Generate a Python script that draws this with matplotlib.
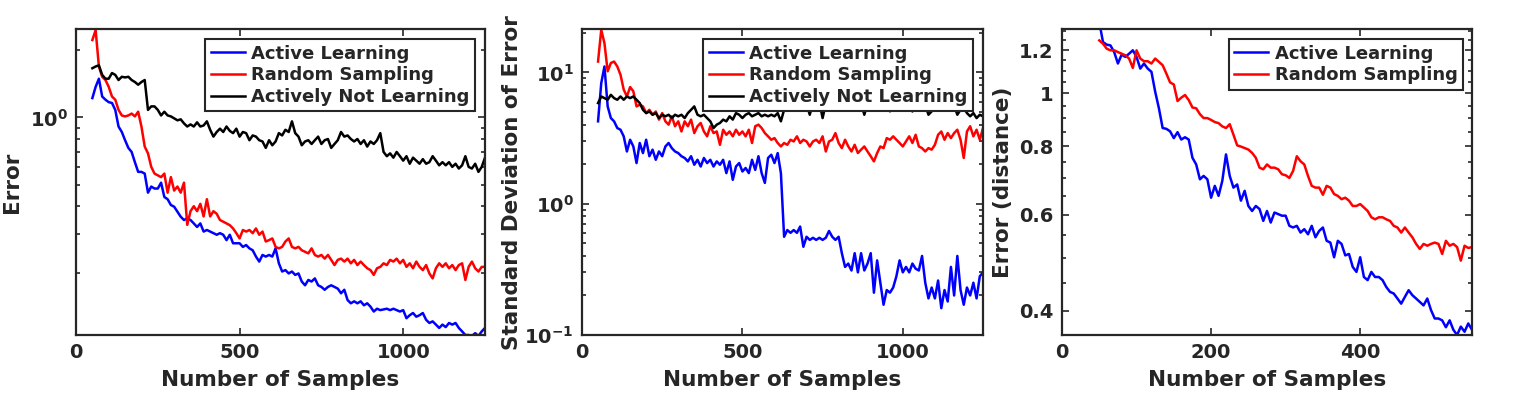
"""Error curves: active learning vs random sampling (three panels)."""
import matplotlib
import matplotlib.pyplot as plt
import matplotlib.ticker as mticker
import numpy as np

matplotlib.use("Agg")

# ---------------------------------------------------------------- data
samples = np.arange(50, 1251, 10)
samples_dist = np.arange(50, 551, 5)

err_active = [
    1.22, 1.37, 1.49, 1.24, 1.20, 1.17, 1.16, 1.08, 0.91, 0.86,
    0.79, 0.73, 0.70, 0.63, 0.57, 0.57, 0.56, 0.46, 0.49, 0.48,
    0.48, 0.51, 0.44, 0.43, 0.405, 0.398, 0.378, 0.359, 0.347, 0.353,
    0.347, 0.335, 0.323, 0.335, 0.308, 0.313, 0.308, 0.303, 0.298, 0.303,
    0.298, 0.282, 0.298, 0.273, 0.273, 0.273, 0.263, 0.268, 0.259, 0.254,
    0.238, 0.226, 0.242, 0.238, 0.242, 0.238, 0.259, 0.222, 0.204, 0.207,
    0.200, 0.204, 0.197, 0.200, 0.184, 0.177, 0.187, 0.184, 0.190, 0.177,
    0.174, 0.169, 0.174, 0.177, 0.174, 0.171, 0.163, 0.169, 0.152, 0.147,
    0.150, 0.147, 0.150, 0.144, 0.147, 0.142, 0.135, 0.139, 0.137, 0.138,
    0.139, 0.137, 0.139, 0.137, 0.135, 0.137, 0.126, 0.130, 0.133, 0.128,
    0.130, 0.133, 0.124, 0.120, 0.122, 0.118, 0.114, 0.118, 0.115, 0.120,
    0.118, 0.120, 0.114, 0.110, 0.106, 0.106, 0.105, 0.108, 0.105, 0.110,
    0.114,
]
err_random = [
    2.22, 2.46, 1.69, 1.52, 1.47, 1.37, 1.24, 1.20, 1.08, 1.02,
    1.01, 1.02, 1.04, 1.01, 1.06, 0.91, 0.74, 0.69, 0.60, 0.56,
    0.55, 0.54, 0.56, 0.46, 0.54, 0.47, 0.49, 0.46, 0.51, 0.33,
    0.38, 0.40, 0.38, 0.41, 0.36, 0.43, 0.36, 0.38, 0.37, 0.347,
    0.341, 0.335, 0.329, 0.318, 0.303, 0.287, 0.313, 0.308, 0.313, 0.303,
    0.318, 0.298, 0.308, 0.278, 0.282, 0.287, 0.263, 0.259, 0.263, 0.278,
    0.287, 0.263, 0.259, 0.263, 0.254, 0.250, 0.246, 0.259, 0.242, 0.238,
    0.242, 0.233, 0.242, 0.230, 0.218, 0.230, 0.233, 0.226, 0.233, 0.222,
    0.230, 0.218, 0.226, 0.218, 0.211, 0.207, 0.197, 0.211, 0.214, 0.222,
    0.218, 0.230, 0.226, 0.233, 0.222, 0.230, 0.214, 0.222, 0.211, 0.226,
    0.214, 0.207, 0.218, 0.200, 0.190, 0.211, 0.222, 0.214, 0.222, 0.211,
    0.218, 0.207, 0.218, 0.222, 0.187, 0.214, 0.226, 0.211, 0.204, 0.214,
    0.214,
]
err_not_learning = [
    1.66, 1.69, 1.71, 1.55, 1.49, 1.49, 1.58, 1.55, 1.47, 1.52,
    1.51, 1.52, 1.47, 1.44, 1.40, 1.44, 1.47, 1.08, 1.12, 1.12,
    1.08, 1.02, 1.06, 1.02, 1.01, 0.99, 0.97, 0.98, 0.94, 0.91,
    0.93, 0.91, 0.95, 0.91, 0.92, 0.96, 0.88, 0.82, 0.86, 0.89,
    0.86, 0.91, 0.87, 0.85, 0.89, 0.82, 0.86, 0.85, 0.79, 0.83,
    0.82, 0.79, 0.78, 0.73, 0.79, 0.75, 0.78, 0.85, 0.83, 0.88,
    0.86, 0.96, 0.85, 0.82, 0.75, 0.78, 0.79, 0.76, 0.79, 0.82,
    0.76, 0.79, 0.80, 0.73, 0.76, 0.79, 0.86, 0.82, 0.83, 0.80,
    0.78, 0.80, 0.76, 0.79, 0.74, 0.78, 0.76, 0.79, 0.85, 0.70,
    0.67, 0.69, 0.66, 0.70, 0.67, 0.64, 0.67, 0.62, 0.66, 0.64,
    0.62, 0.65, 0.62, 0.63, 0.67, 0.64, 0.61, 0.63, 0.61, 0.63,
    0.60, 0.62, 0.59, 0.61, 0.67, 0.60, 0.59, 0.62, 0.57, 0.60,
    0.66,
]

std_active = [
    4.24, 8.29, 11.1, 5.51, 4.49, 4.24, 3.77, 3.66, 3.26, 2.50,
    3.07, 2.73, 2.04, 2.90, 2.43, 3.07, 2.30, 2.58, 2.16, 2.50,
    2.30, 2.73, 2.90, 2.65, 2.50, 2.43, 2.30, 2.23, 2.10, 2.30,
    1.98, 2.16, 1.92, 2.23, 2.04, 2.16, 1.92, 2.10, 1.98, 2.16,
    1.71, 2.10, 1.52, 1.92, 2.04, 1.76, 1.87, 1.71, 2.16, 1.81,
    2.30, 1.71, 1.44, 2.23, 2.36, 2.04, 2.43, 1.71, 0.56, 0.63,
    0.60, 0.63, 0.60, 0.67, 0.47, 0.56, 0.53, 0.55, 0.53, 0.55,
    0.53, 0.55, 0.62, 0.56, 0.53, 0.56, 0.42, 0.33, 0.35, 0.31,
    0.42, 0.30, 0.42, 0.31, 0.35, 0.42, 0.21, 0.37, 0.25, 0.17,
    0.22, 0.21, 0.23, 0.28, 0.37, 0.30, 0.33, 0.30, 0.35, 0.32,
    0.31, 0.40, 0.25, 0.19, 0.23, 0.19, 0.26, 0.16, 0.22, 0.18,
    0.33, 0.20, 0.40, 0.22, 0.17, 0.23, 0.20, 0.25, 0.19, 0.28,
    0.30,
]
std_random = [
    12.1, 21.1, 16.7, 10.2, 11.8, 12.1, 11.1, 9.6, 7.4, 6.56,
    7.74, 7.18, 5.51, 5.67, 5.51, 4.90, 5.19, 4.76, 5.04, 4.37,
    4.90, 4.24, 4.00, 4.63, 3.89, 4.24, 3.55, 4.24, 3.89, 4.37,
    3.45, 3.89, 4.12, 3.55, 3.26, 3.89, 3.45, 3.55, 2.81, 3.66,
    3.35, 3.55, 3.26, 3.66, 3.35, 3.55, 3.26, 3.66, 2.90, 3.89,
    4.00, 3.77, 3.45, 3.26, 3.07, 3.16, 2.90, 2.73, 2.90, 2.81,
    3.07, 2.98, 3.26, 2.90, 3.07, 2.98, 2.73, 2.98, 3.07, 2.90,
    3.26, 2.50, 2.98, 3.07, 3.45, 2.90, 2.65, 3.07, 2.73, 2.50,
    2.81, 2.43, 2.58, 2.73, 2.50, 2.30, 2.10, 2.43, 2.73, 2.65,
    3.16, 3.07, 3.26, 3.07, 2.90, 2.73, 2.98, 3.26, 2.90, 3.35,
    2.73, 2.65, 2.50, 2.65, 2.58, 2.81, 3.35, 3.55, 3.07, 3.45,
    3.16, 3.45, 3.66, 3.07, 2.23, 3.55, 3.89, 3.26, 3.66, 3.07,
    3.77,
]
std_not_learning = [
    5.84, 6.56, 6.37, 6.19, 6.75, 6.37, 6.19, 6.56, 6.19, 6.56,
    6.37, 6.56, 6.19, 5.84, 5.19, 4.90, 5.04, 4.76, 4.90, 4.49,
    4.76, 4.63, 4.76, 4.49, 4.76, 4.63, 4.76, 4.49, 4.90, 5.19,
    5.51, 4.76, 4.63, 4.76, 4.49, 4.24, 3.77, 4.00, 4.12, 4.37,
    4.24, 4.63, 4.37, 4.90, 4.76, 4.49, 4.76, 4.90, 4.63, 4.76,
    4.90, 4.63, 4.76, 4.63, 4.76, 4.63, 4.90, 4.24, 5.19, 5.70,
    5.85, 5.70, 5.95, 5.80, 6.00, 5.75, 4.76, 5.85, 5.70, 5.95,
    4.49, 5.80, 5.90, 5.70, 5.85, 5.80, 5.95, 5.70, 5.85, 5.70,
    5.95, 5.80, 5.85, 4.76, 5.75, 5.85, 5.70, 5.90, 5.80, 5.70,
    5.85, 5.05, 5.80, 5.70, 5.90, 5.75, 5.85, 5.70, 5.04, 5.80,
    5.70, 5.85, 5.65, 4.76, 5.05, 5.70, 5.80, 5.70, 5.85, 5.70,
    5.80, 5.60, 4.76, 5.20, 5.40, 4.90, 4.63, 4.90, 4.49, 4.76,
    4.63,
]

dist_active = [
    1.35, 1.241, 1.228, 1.224, 1.190, 1.134, 1.177, 1.166, 1.182, 1.199,
    1.166, 1.110, 1.134, 1.110, 1.095, 1.007, 0.939, 0.864, 0.861, 0.852,
    0.828, 0.849, 0.823, 0.831, 0.823, 0.762, 0.741, 0.696, 0.706, 0.696,
    0.644, 0.677, 0.649, 0.691, 0.773, 0.706, 0.672, 0.681, 0.636, 0.663,
    0.622, 0.609, 0.622, 0.614, 0.584, 0.609, 0.580, 0.605, 0.601, 0.597,
    0.597, 0.572, 0.568, 0.572, 0.556, 0.564, 0.552, 0.572, 0.545, 0.560,
    0.568, 0.537, 0.533, 0.501, 0.537, 0.530, 0.505, 0.508, 0.481, 0.471,
    0.501, 0.461, 0.455, 0.471, 0.461, 0.461, 0.455, 0.442, 0.433, 0.430,
    0.421, 0.412, 0.424, 0.436, 0.427, 0.421, 0.415, 0.409, 0.421, 0.401,
    0.387, 0.387, 0.384, 0.373, 0.384, 0.369, 0.361, 0.374, 0.366, 0.379,
    0.369,
]
dist_random = [
    1.250, 1.233, 1.207, 1.199, 1.199, 1.190, 1.182, 1.174, 1.158, 1.113,
    1.199, 1.158, 1.145, 1.145, 1.134, 1.158, 1.142, 1.126, 1.087, 1.047,
    1.038, 0.968, 0.982, 0.993, 0.972, 0.942, 0.939, 0.916, 0.901, 0.901,
    0.894, 0.886, 0.882, 0.870, 0.864, 0.878, 0.840, 0.803, 0.799, 0.794,
    0.789, 0.778, 0.762, 0.731, 0.726, 0.741, 0.731, 0.731, 0.726, 0.711,
    0.708, 0.700, 0.721, 0.767, 0.751, 0.741, 0.706, 0.677, 0.672, 0.672,
    0.652, 0.677, 0.672, 0.654, 0.649, 0.640, 0.644, 0.636, 0.622, 0.622,
    0.627, 0.618, 0.609, 0.593, 0.588, 0.593, 0.593, 0.588, 0.584, 0.572,
    0.568, 0.556, 0.568, 0.556, 0.545, 0.530, 0.519, 0.530, 0.526, 0.530,
    0.533, 0.530, 0.508, 0.537, 0.526, 0.530, 0.523, 0.494, 0.526, 0.521,
    0.523,
]

# --------------------------------------------------------------- style
INK = "#262626"
plt.rcParams.update({
    "font.family": "DejaVu Sans",
    "font.weight": "bold",
    "axes.labelweight": "bold",
    "mathtext.default": "bf",
    "text.color": INK,
    "axes.labelcolor": INK,
    "xtick.color": INK,
    "ytick.color": INK,
})

TICK_FS = 14
LABEL_FS = 15.5
LEGEND_FS = 13
LW = 1.8

fig = plt.figure(figsize=(15.26, 3.94), dpi=100)
W, H = 1526, 394


def add_panel(left, right, top=29.3, bottom=335):
    ax = fig.add_axes([left / W, (H - bottom) / H, (right - left) / W, (bottom - top) / H])
    for sp in ax.spines.values():
        sp.set_color(INK)
        sp.set_linewidth(1.6)
    ax.tick_params(which="both", direction="in", top=True, right=True,
                   labelsize=TICK_FS, width=1.2)
    ax.tick_params(which="major", length=5, pad=6)
    ax.tick_params(which="minor", length=3)
    ax.tick_params(axis="x", which="minor", bottom=False, top=False)
    return ax


def add_legend(ax, anchor):
    leg = ax.legend(loc="upper right", bbox_to_anchor=anchor, borderaxespad=0,
                    fontsize=LEGEND_FS, fancybox=False, framealpha=1,
                    handlelength=1.9, handletextpad=0.35, labelspacing=0.2,
                    borderpad=0.3)
    leg.get_frame().set_edgecolor(INK)
    leg.get_frame().set_linewidth(1.5)
    return leg


log_minor = mticker.LogLocator(base=10, subs=np.arange(2, 10), numticks=20)

# panel 1: mean error
ax1 = add_panel(76, 485)
ax1.plot(samples, err_active, color="#0000ff", lw=LW, label="Active Learning")
ax1.plot(samples, err_random, color="#ff0000", lw=LW, label="Random Sampling")
ax1.plot(samples, err_not_learning, color="#000000", lw=LW, label="Actively Not Learning")
ax1.set_yscale("log")
ax1.set_xlim(0, 1250)
ax1.set_ylim(0.106, 2.48)
ax1.set_xticks([0, 500, 1000])
ax1.set_yticks([1], [r"$10^{0}$"])
ax1.yaxis.set_minor_locator(log_minor)
ax1.yaxis.set_minor_formatter(mticker.NullFormatter())
ax1.set_xlabel("Number of Samples", fontsize=LABEL_FS)
ax1.set_ylabel("Error", fontsize=LABEL_FS)
ax1.xaxis.set_label_coords(0.5, -0.115)
ax1.yaxis.set_label_coords(-0.133, 0.5)
add_legend(ax1, (0.9756, 0.967))

# panel 2: standard deviation of error
ax2 = add_panel(582, 983)
ax2.plot(samples, std_active, color="#0000ff", lw=LW, label="Active Learning")
ax2.plot(samples, std_random, color="#ff0000", lw=LW, label="Random Sampling")
ax2.plot(samples, std_not_learning, color="#000000", lw=LW, label="Actively Not Learning")
ax2.set_yscale("log")
ax2.set_xlim(0, 1250)
ax2.set_ylim(0.1, 21.3)
ax2.set_xticks([0, 500, 1000])
ax2.set_yticks([0.1, 1, 10], [r"$10^{-1}$", r"$10^{0}$", r"$10^{1}$"])
ax2.yaxis.set_minor_locator(log_minor)
ax2.yaxis.set_minor_formatter(mticker.NullFormatter())
ax2.set_xlabel("Number of Samples", fontsize=LABEL_FS)
ax2.set_ylabel("Standard Deviation of Error", fontsize=LABEL_FS)
ax2.xaxis.set_label_coords(0.5, -0.115)
ax2.yaxis.set_label_coords(-0.150, 0.5)
add_legend(ax2, (0.975, 0.967))

# panel 3: error in distance
ax3 = add_panel(1062, 1472)
ax3.plot(samples_dist, dist_active, color="#0000ff", lw=LW, label="Active Learning")
ax3.plot(samples_dist, dist_random, color="#ff0000", lw=LW, label="Random Sampling")
ax3.set_yscale("log")
ax3.set_xlim(0, 550)
ax3.set_ylim(0.361, 1.31)
ax3.set_xticks([0, 200, 400])
ax3.set_yticks([0.4, 0.6, 0.8, 1, 1.2], ["0.4", "0.6", "0.8", "1", "1.2"])
ax3.yaxis.set_minor_locator(mticker.FixedLocator(np.arange(0.35, 1.31, 0.05)))
ax3.yaxis.set_minor_formatter(mticker.NullFormatter())
ax3.set_xlabel("Number of Samples", fontsize=LABEL_FS)
ax3.set_ylabel("Error (distance)", fontsize=LABEL_FS)
ax3.xaxis.set_label_coords(0.5, -0.115)
ax3.yaxis.set_label_coords(-0.120, 0.5)
add_legend(ax3, (0.978, 0.967))

fig.savefig("out.png", dpi=100)
